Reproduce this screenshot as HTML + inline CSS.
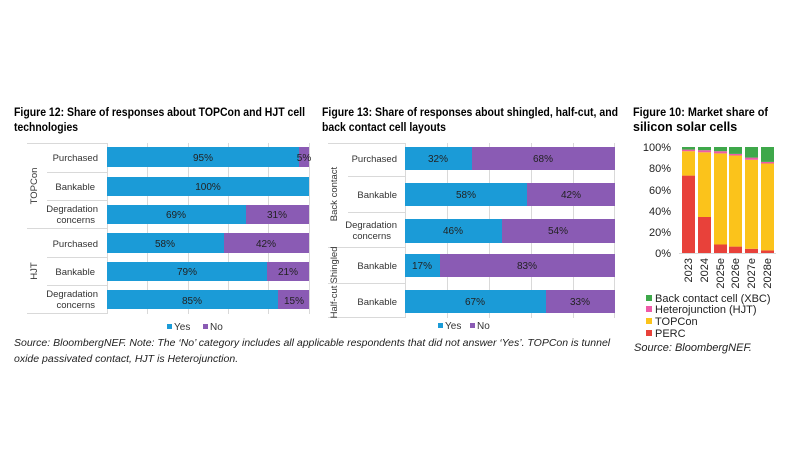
<!DOCTYPE html>
<html><head><meta charset="utf-8"><style>
html,body{margin:0;padding:0;background:#fff;}
svg{display:block;font-family:"Liberation Sans",Arial,sans-serif;}
</style></head><body>
<svg width="786" height="469" viewBox="0 0 786 469" xmlns="http://www.w3.org/2000/svg">
<rect width="786" height="469" fill="#fff"/>
<g font-weight="bold" font-size="12" fill="#000">
<text x="14" y="116" textLength="291" lengthAdjust="spacingAndGlyphs">Figure 12: Share of responses about TOPCon and HJT cell</text>
<text x="14" y="131" textLength="64" lengthAdjust="spacingAndGlyphs">technologies</text>
<text x="322" y="116" textLength="296" lengthAdjust="spacingAndGlyphs">Figure 13: Share of responses about shingled, half-cut, and</text>
<text x="322" y="131" textLength="124" lengthAdjust="spacingAndGlyphs">back contact cell layouts</text>
<text x="633" y="116" textLength="135" lengthAdjust="spacingAndGlyphs">Figure 10: Market share of</text>
<text x="633" y="131" font-size="12.5">silicon solar cells</text>
</g>
<g stroke="#d9d9d9" stroke-width="1">
<line x1="147.5" y1="143" x2="147.5" y2="314"/><line x1="188.5" y1="143" x2="188.5" y2="314"/>
<line x1="228.5" y1="143" x2="228.5" y2="314"/><line x1="268.5" y1="143" x2="268.5" y2="314"/><line x1="309.5" y1="143" x2="309.5" y2="314"/>
<line x1="27" y1="143.5" x2="107" y2="143.5"/><line x1="47" y1="172.5" x2="107" y2="172.5"/><line x1="47" y1="200.5" x2="107" y2="200.5"/>
<line x1="27" y1="228.5" x2="107" y2="228.5"/><line x1="47" y1="257.5" x2="107" y2="257.5"/><line x1="47" y1="285.5" x2="107" y2="285.5"/>
<line x1="27" y1="313.5" x2="107" y2="313.5"/><line x1="107.5" y1="143" x2="107.5" y2="314"/>
</g>
<g>
<rect x="107" y="147" width="192" height="20" fill="#1b9bd7"/><rect x="299" y="147" width="10" height="20" fill="#8a5bb4"/>
<rect x="107" y="177" width="202" height="19" fill="#1b9bd7"/>
<rect x="107" y="205" width="139" height="19" fill="#1b9bd7"/><rect x="246" y="205" width="63" height="19" fill="#8a5bb4"/>
<rect x="107" y="233" width="117" height="20" fill="#1b9bd7"/><rect x="224" y="233" width="85" height="20" fill="#8a5bb4"/>
<rect x="107" y="262" width="160" height="19" fill="#1b9bd7"/><rect x="267" y="262" width="42" height="19" fill="#8a5bb4"/>
<rect x="107" y="290" width="171" height="19" fill="#1b9bd7"/><rect x="278" y="290" width="31" height="19" fill="#8a5bb4"/>
</g>
<g font-size="10" fill="#222" text-anchor="middle">
<text x="203" y="161">95%</text><text x="304" y="161">5%</text>
<text x="208" y="190">100%</text>
<text x="176" y="218">69%</text><text x="277" y="218">31%</text>
<text x="165" y="247">58%</text><text x="266" y="247">42%</text>
<text x="187" y="275">79%</text><text x="288" y="275">21%</text>
<text x="192" y="304">85%</text><text x="294" y="304">15%</text>
</g>
<g font-size="9.5" fill="#333" text-anchor="end">
<text x="98" y="161">Purchased</text><text x="95" y="190">Bankable</text>
<text x="98" y="212">Degradation</text><text x="95" y="223">concerns</text>
<text x="98" y="247">Purchased</text><text x="95" y="275">Bankable</text>
<text x="98" y="297">Degradation</text><text x="95" y="308">concerns</text>
</g>
<g font-size="9.5" fill="#333" text-anchor="middle">
<text transform="translate(37,186) rotate(-90)">TOPCon</text>
<text transform="translate(37,271) rotate(-90)">HJT</text>
</g>
<g font-size="10" fill="#333">
<rect x="167" y="324" width="5" height="5" fill="#1b9bd7"/><text x="174" y="330">Yes</text>
<rect x="203" y="324" width="5" height="5" fill="#8a5bb4"/><text x="210" y="330">No</text>
</g>
<g stroke="#d9d9d9" stroke-width="1">
<line x1="447.5" y1="143" x2="447.5" y2="318"/><line x1="489.5" y1="143" x2="489.5" y2="318"/>
<line x1="531.5" y1="143" x2="531.5" y2="318"/><line x1="573.5" y1="143" x2="573.5" y2="318"/><line x1="614.5" y1="143" x2="614.5" y2="318"/>
<line x1="328" y1="143.5" x2="405" y2="143.5"/><line x1="348" y1="176.5" x2="405" y2="176.5"/><line x1="348" y1="212.5" x2="405" y2="212.5"/>
<line x1="328" y1="247.5" x2="405" y2="247.5"/><line x1="328" y1="283.5" x2="405" y2="283.5"/><line x1="328" y1="317.5" x2="405" y2="317.5"/>
<line x1="405.5" y1="143" x2="405.5" y2="318"/>
</g>
<g>
<rect x="405" y="147" width="67" height="23" fill="#1b9bd7"/><rect x="472" y="147" width="143" height="23" fill="#8a5bb4"/>
<rect x="405" y="183" width="122" height="23" fill="#1b9bd7"/><rect x="527" y="183" width="88" height="23" fill="#8a5bb4"/>
<rect x="405" y="219" width="97" height="24" fill="#1b9bd7"/><rect x="502" y="219" width="113" height="24" fill="#8a5bb4"/>
<rect x="405" y="254" width="35" height="23" fill="#1b9bd7"/><rect x="440" y="254" width="175" height="23" fill="#8a5bb4"/>
<rect x="405" y="290" width="141" height="23" fill="#1b9bd7"/><rect x="546" y="290" width="69" height="23" fill="#8a5bb4"/>
</g>
<g font-size="10" fill="#222" text-anchor="middle">
<text x="438" y="162">32%</text><text x="543" y="162">68%</text>
<text x="466" y="198">58%</text><text x="571" y="198">42%</text>
<text x="453" y="234">46%</text><text x="558" y="234">54%</text>
<text x="422" y="269">17%</text><text x="527" y="269">83%</text>
<text x="475" y="305">67%</text><text x="580" y="305">33%</text>
</g>
<g font-size="9.5" fill="#333" text-anchor="end">
<text x="397" y="162">Purchased</text><text x="397" y="198">Bankable</text>
<text x="397" y="228">Degradation</text><text x="391" y="239">concerns</text>
<text x="397" y="269">Bankable</text><text x="397" y="305">Bankable</text>
</g>
<g font-size="9.5" fill="#333" text-anchor="middle">
<text transform="translate(337,194) rotate(-90)">Back contact</text>
<text transform="translate(337,265) rotate(-90)">Shingled</text>
<text transform="translate(337,302) rotate(-90)">Half-cut</text>
</g>
<g font-size="10" fill="#333">
<rect x="438" y="323" width="5" height="5" fill="#1b9bd7"/><text x="445" y="329">Yes</text>
<rect x="470" y="323" width="5" height="5" fill="#8a5bb4"/><text x="477" y="329">No</text>
</g>
<g font-size="10.5" font-style="italic" fill="#222">
<text x="14" y="346">Source: BloombergNEF. Note: The ‘No’ category includes all applicable respondents that did not answer ‘Yes’. TOPCon is tunnel</text>
<text x="14" y="362">oxide passivated contact, HJT is Heterojunction.</text>
</g>
<g font-size="11" fill="#222" text-anchor="end">
<text x="671" y="151">100%</text><text x="671" y="172">80%</text><text x="671" y="194">60%</text>
<text x="671" y="215">40%</text><text x="671" y="236">20%</text><text x="671" y="257">0%</text>
</g>
<line x1="679" y1="253.5" x2="776" y2="253.5" stroke="#d9d9d9"/>
<g>
<rect x="682" y="175.6" width="13" height="77.4" fill="#e8413a"/><rect x="682" y="151.2" width="13" height="24.4" fill="#fbc31b"/><rect x="682" y="149.6" width="13" height="1.6" fill="#ee5aa8"/><rect x="682" y="147" width="13" height="2.6" fill="#3ea84a"/>
<rect x="698" y="217" width="13" height="36" fill="#e8413a"/><rect x="698" y="152.3" width="13" height="64.7" fill="#fbc31b"/><rect x="698" y="150.2" width="13" height="2.1" fill="#ee5aa8"/><rect x="698" y="147" width="13" height="3.2" fill="#3ea84a"/>
<rect x="714" y="244.5" width="13" height="8.5" fill="#e8413a"/><rect x="714" y="153.4" width="13" height="91.1" fill="#fbc31b"/><rect x="714" y="151.2" width="13" height="2.2" fill="#ee5aa8"/><rect x="714" y="147" width="13" height="4.2" fill="#3ea84a"/>
<rect x="729" y="246.6" width="13" height="6.4" fill="#e8413a"/><rect x="729" y="155.5" width="13" height="91.1" fill="#fbc31b"/><rect x="729" y="153.9" width="13" height="1.6" fill="#ee5aa8"/><rect x="729" y="147" width="13" height="6.9" fill="#3ea84a"/>
<rect x="745" y="248.8" width="13" height="4.2" fill="#e8413a"/><rect x="745" y="159.8" width="13" height="89" fill="#fbc31b"/><rect x="745" y="157.6" width="13" height="2.2" fill="#ee5aa8"/><rect x="745" y="147" width="13" height="10.6" fill="#3ea84a"/>
<rect x="761" y="250.4" width="13" height="2.6" fill="#e8413a"/><rect x="761" y="163.5" width="13" height="86.9" fill="#fbc31b"/><rect x="761" y="161.9" width="13" height="1.6" fill="#ee5aa8"/><rect x="761" y="147" width="13" height="14.9" fill="#3ea84a"/>
</g>
<g font-size="11" fill="#222" text-anchor="end">
<text transform="translate(692,258) rotate(-90)">2023</text>
<text transform="translate(708,258) rotate(-90)">2024</text>
<text transform="translate(724,258) rotate(-90)">2025e</text>
<text transform="translate(739,258) rotate(-90)">2026e</text>
<text transform="translate(755,258) rotate(-90)">2027e</text>
<text transform="translate(771,258) rotate(-90)">2028e</text>
</g>
<g font-size="11" fill="#222">
<rect x="646" y="295" width="6" height="6" fill="#3ea84a"/><text x="655" y="302">Back contact cell (XBC)</text>
<rect x="646" y="306" width="6" height="6" fill="#ee5aa8"/><text x="655" y="313">Heterojunction (HJT)</text>
<rect x="646" y="318" width="6" height="6" fill="#fbc31b"/><text x="655" y="325">TOPCon</text>
<rect x="646" y="330" width="6" height="6" fill="#e8413a"/><text x="655" y="337">PERC</text>
<text x="634" y="351" font-style="italic">Source: BloombergNEF.</text>
</g>
</svg>
</body></html>
